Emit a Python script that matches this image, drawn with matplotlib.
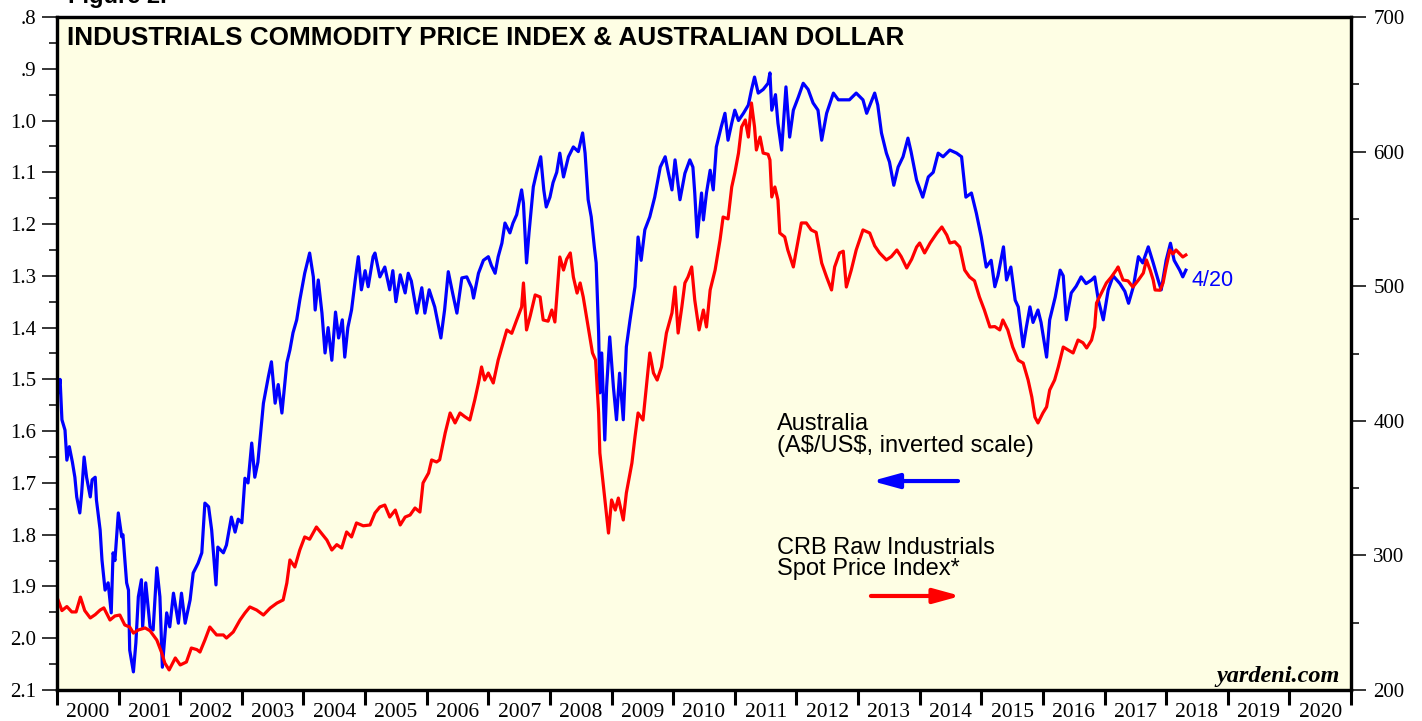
import numpy as np
import matplotlib
matplotlib.use("Agg")
import matplotlib.pyplot as plt

# Australian dollar, A$ per US$ (plotted on inverted left scale)
aud_dates = [2000.00, 2000.02, 2000.05, 2000.08, 2000.13, 2000.16, 2000.20, 2000.25, 2000.29, 2000.32,
             2000.37, 2000.40, 2000.44, 2000.48, 2000.54, 2000.57, 2000.62, 2000.64, 2000.70, 2000.73,
             2000.78, 2000.83, 2000.88, 2000.91, 2000.94, 2000.995, 2001.05, 2001.07, 2001.13, 2001.16,
             2001.18, 2001.24, 2001.28, 2001.32, 2001.37, 2001.39, 2001.44, 2001.51, 2001.56, 2001.62,
             2001.67, 2001.71, 2001.78, 2001.83, 2001.89, 2001.97, 2002.02, 2002.08, 2002.16, 2002.21,
             2002.29, 2002.35, 2002.40, 2002.46, 2002.51, 2002.58, 2002.61, 2002.70, 2002.75, 2002.83,
             2002.89, 2002.94, 2003.00, 2003.05, 2003.10, 2003.16, 2003.21, 2003.26, 2003.35, 2003.43,
             2003.48, 2003.54, 2003.59, 2003.65, 2003.73, 2003.78, 2003.83, 2003.89, 2003.94, 2004.02,
             2004.10, 2004.16, 2004.19, 2004.24, 2004.30, 2004.35, 2004.40, 2004.46, 2004.52, 2004.57,
             2004.63, 2004.67, 2004.72, 2004.78, 2004.84, 2004.89, 2004.94, 2005.00, 2005.05, 2005.13,
             2005.16, 2005.24, 2005.32, 2005.40, 2005.45, 2005.50, 2005.57, 2005.65, 2005.70, 2005.75,
             2005.84, 2005.92, 2005.97, 2006.04, 2006.13, 2006.23, 2006.29, 2006.35, 2006.42, 2006.49,
             2006.57, 2006.65, 2006.73, 2006.76, 2006.84, 2006.92, 2007.00, 2007.05, 2007.11, 2007.16,
             2007.22, 2007.27, 2007.35, 2007.40, 2007.46, 2007.54, 2007.57, 2007.62, 2007.66, 2007.73,
             2007.78, 2007.85, 2007.90, 2007.94, 2008.00, 2008.05, 2008.11, 2008.16, 2008.22, 2008.30,
             2008.38, 2008.46, 2008.53, 2008.57, 2008.62, 2008.67, 2008.72, 2008.75, 2008.79, 2008.81,
             2008.84, 2008.89, 2008.92, 2008.97, 2009.03, 2009.08, 2009.13, 2009.19, 2009.24, 2009.30,
             2009.38, 2009.43, 2009.48, 2009.54, 2009.62, 2009.70, 2009.79, 2009.87, 2009.92, 2009.98,
             2010.03, 2010.11, 2010.19, 2010.27, 2010.32, 2010.35, 2010.39, 2010.46, 2010.49, 2010.54,
             2010.60, 2010.65, 2010.70, 2010.78, 2010.84, 2010.89, 2010.95, 2011.00, 2011.06, 2011.14,
             2011.22, 2011.27, 2011.32, 2011.38, 2011.46, 2011.54, 2011.57, 2011.60, 2011.66, 2011.70,
             2011.76, 2011.83, 2011.89, 2011.95, 2012.03, 2012.11, 2012.19, 2012.27, 2012.35, 2012.41,
             2012.49, 2012.60, 2012.68, 2012.76, 2012.86, 2012.97, 2013.08, 2013.14, 2013.27, 2013.32,
             2013.38, 2013.46, 2013.51, 2013.58, 2013.65, 2013.73, 2013.81, 2013.86, 2013.95, 2014.05,
             2014.14, 2014.22, 2014.30, 2014.38, 2014.49, 2014.60, 2014.68, 2014.75, 2014.84, 2014.92,
             2015.00, 2015.08, 2015.16, 2015.22, 2015.27, 2015.36, 2015.41, 2015.48, 2015.55, 2015.60,
             2015.68, 2015.73, 2015.79, 2015.84, 2015.92, 2015.97, 2016.06, 2016.11, 2016.20, 2016.28,
             2016.33, 2016.38, 2016.46, 2016.54, 2016.62, 2016.70, 2016.79, 2016.84, 2016.90, 2016.98,
             2017.06, 2017.14, 2017.25, 2017.33, 2017.39, 2017.47, 2017.55, 2017.62, 2017.71, 2017.79,
             2017.87, 2017.92, 2018.00, 2018.07, 2018.13, 2018.22, 2018.27, 2018.32]
aud_usd = [1.500, 1.526, 1.500, 1.578, 1.598, 1.656, 1.630, 1.660, 1.689, 1.727,
           1.758, 1.720, 1.650, 1.689, 1.727, 1.694, 1.689, 1.733, 1.791, 1.849,
           1.907, 1.893, 1.951, 1.835, 1.850, 1.758, 1.804, 1.800, 1.893, 1.907,
           2.023, 2.065, 2.009, 1.920, 1.887, 1.978, 1.893, 1.978, 1.984, 1.864,
           1.920, 2.056, 1.951, 1.978, 1.913, 1.971, 1.913, 1.971, 1.926, 1.874,
           1.855, 1.835, 1.739, 1.746, 1.791, 1.897, 1.824, 1.835, 1.820, 1.766,
           1.795, 1.770, 1.777, 1.691, 1.700, 1.623, 1.689, 1.660, 1.546, 1.495,
           1.466, 1.546, 1.510, 1.565, 1.468, 1.443, 1.410, 1.385, 1.347, 1.295,
           1.256, 1.302, 1.366, 1.308, 1.372, 1.449, 1.400, 1.463, 1.370, 1.420,
           1.385, 1.457, 1.400, 1.366, 1.308, 1.263, 1.327, 1.290, 1.321, 1.263,
           1.256, 1.302, 1.283, 1.327, 1.290, 1.350, 1.298, 1.333, 1.295, 1.310,
           1.372, 1.323, 1.372, 1.327, 1.360, 1.420, 1.366, 1.292, 1.333, 1.372,
           1.304, 1.302, 1.323, 1.343, 1.295, 1.270, 1.263, 1.280, 1.295, 1.263,
           1.237, 1.198, 1.217, 1.198, 1.182, 1.134, 1.160, 1.275, 1.217, 1.128,
           1.102, 1.070, 1.134, 1.167, 1.148, 1.120, 1.100, 1.063, 1.109, 1.070,
           1.051, 1.060, 1.024, 1.063, 1.153, 1.186, 1.244, 1.275, 1.410, 1.526,
           1.449, 1.617, 1.515, 1.418, 1.515, 1.578, 1.488, 1.578, 1.437, 1.385,
           1.321, 1.225, 1.270, 1.211, 1.186, 1.148, 1.090, 1.070, 1.100, 1.134,
           1.076, 1.153, 1.102, 1.076, 1.090, 1.140, 1.225, 1.140, 1.192, 1.140,
           1.096, 1.134, 1.051, 1.012, 0.986, 1.038, 1.005, 0.980, 1.000, 0.986,
           0.970, 0.941, 0.916, 0.947, 0.940, 0.928, 0.908, 0.980, 0.950, 1.005,
           1.057, 0.935, 1.032, 0.980, 0.955, 0.928, 0.940, 0.966, 0.980, 1.038,
           0.986, 0.947, 0.960, 0.960, 0.960, 0.947, 0.960, 0.986, 0.947, 0.970,
           1.024, 1.063, 1.080, 1.125, 1.090, 1.070, 1.034, 1.060, 1.115, 1.148,
           1.109, 1.100, 1.063, 1.070, 1.057, 1.063, 1.070, 1.148, 1.140, 1.179,
           1.225, 1.283, 1.270, 1.321, 1.300, 1.244, 1.308, 1.283, 1.347, 1.360,
           1.437, 1.400, 1.360, 1.390, 1.366, 1.390, 1.457, 1.385, 1.341, 1.289,
           1.300, 1.385, 1.333, 1.320, 1.302, 1.315, 1.308, 1.302, 1.347, 1.385,
           1.327, 1.300, 1.315, 1.330, 1.353, 1.320, 1.263, 1.275, 1.244, 1.275,
           1.308, 1.327, 1.270, 1.237, 1.270, 1.289, 1.302, 1.289]

# CRB raw industrials spot price index (right scale)
crb_dates = [2000.00, 2000.08, 2000.16, 2000.24, 2000.31, 2000.38, 2000.45, 2000.54, 2000.62, 2000.70,
             2000.76, 2000.86, 2000.94, 2001.02, 2001.10, 2001.18, 2001.24, 2001.32, 2001.43, 2001.51,
             2001.62, 2001.70, 2001.75, 2001.82, 2001.92, 2002.00, 2002.10, 2002.18, 2002.27, 2002.32,
             2002.40, 2002.48, 2002.59, 2002.70, 2002.75, 2002.86, 2002.97, 2003.05, 2003.13, 2003.24,
             2003.35, 2003.46, 2003.57, 2003.67, 2003.73, 2003.78, 2003.86, 2003.94, 2004.02, 2004.10,
             2004.21, 2004.30, 2004.38, 2004.46, 2004.54, 2004.62, 2004.70, 2004.78, 2004.86, 2004.97,
             2005.08, 2005.16, 2005.24, 2005.32, 2005.40, 2005.49, 2005.57, 2005.65, 2005.73, 2005.81,
             2005.89, 2005.94, 2006.03, 2006.08, 2006.16, 2006.21, 2006.30, 2006.38, 2006.46, 2006.54,
             2006.62, 2006.70, 2006.78, 2006.84, 2006.89, 2006.94, 2007.00, 2007.08, 2007.16, 2007.22,
             2007.30, 2007.38, 2007.46, 2007.54, 2007.57, 2007.62, 2007.68, 2007.76, 2007.84, 2007.89,
             2007.97, 2008.03, 2008.08, 2008.16, 2008.22, 2008.27, 2008.33, 2008.38, 2008.44, 2008.49,
             2008.54, 2008.62, 2008.69, 2008.74, 2008.79, 2008.81, 2008.87, 2008.91, 2008.95, 2009.00,
             2009.06, 2009.11, 2009.19, 2009.24, 2009.33, 2009.38, 2009.43, 2009.51, 2009.57, 2009.62,
             2009.68, 2009.74, 2009.81, 2009.89, 2009.98, 2010.03, 2010.08, 2010.14, 2010.19, 2010.24,
             2010.30, 2010.35, 2010.42, 2010.49, 2010.54, 2010.60, 2010.68, 2010.76, 2010.81, 2010.89,
             2010.95, 2011.00, 2011.06, 2011.11, 2011.17, 2011.22, 2011.27, 2011.32, 2011.35, 2011.41,
             2011.46, 2011.54, 2011.57, 2011.60, 2011.65, 2011.70, 2011.73, 2011.81, 2011.86, 2011.95,
             2011.99, 2012.08, 2012.16, 2012.24, 2012.32, 2012.41, 2012.49, 2012.57, 2012.62, 2012.70,
             2012.76, 2012.81, 2012.89, 2012.97, 2013.08, 2013.19, 2013.27, 2013.35, 2013.46, 2013.54,
             2013.63, 2013.70, 2013.79, 2013.87, 2013.95, 2014.00, 2014.08, 2014.17, 2014.28, 2014.36,
             2014.44, 2014.49, 2014.57, 2014.65, 2014.73, 2014.81, 2014.89, 2014.97, 2015.05, 2015.14,
             2015.22, 2015.30, 2015.35, 2015.43, 2015.51, 2015.60, 2015.68, 2015.76, 2015.82, 2015.87,
             2015.92, 2016.00, 2016.06, 2016.11, 2016.19, 2016.25, 2016.33, 2016.41, 2016.49, 2016.57,
             2016.65, 2016.71, 2016.79, 2016.84, 2016.87, 2016.95, 2017.03, 2017.11, 2017.19, 2017.22,
             2017.30, 2017.38, 2017.46, 2017.55, 2017.63, 2017.68, 2017.74, 2017.79, 2017.82, 2017.90,
             2017.95, 2018.00, 2018.06, 2018.11, 2018.16, 2018.22, 2018.27, 2018.32]
crb_index = [269.0, 259.0, 262.0, 258.0, 258.0, 269.0, 259.0, 253.5, 256.0, 259.4,
             261.0, 252.0, 255.0, 255.7, 248.3, 246.8, 242.3, 244.6, 246.1, 244.0,
             237.1, 227.5, 220.0, 214.9, 223.8, 218.6, 220.8, 231.2, 230.0, 228.2,
             237.1, 246.8, 240.9, 240.9, 238.6, 243.1, 252.0, 257.2, 261.7, 259.4,
             255.7, 260.9, 264.6, 266.9, 279.5, 296.6, 291.4, 304.0, 313.7, 312.0,
             321.1, 316.0, 311.4, 304.0, 308.0, 305.5, 317.4, 313.7, 324.1, 322.0,
             322.6, 331.5, 336.0, 337.4, 328.5, 333.7, 322.6, 328.5, 330.0, 335.2,
             332.2, 353.8, 361.2, 370.9, 369.4, 371.0, 391.0, 405.8, 398.4, 405.8,
             403.0, 400.6, 415.5, 428.1, 440.0, 430.3, 435.5, 428.1, 445.2, 454.8,
             467.5, 465.0, 474.9, 484.5, 502.4, 467.5, 478.0, 493.5, 492.0, 474.9,
             474.0, 482.3, 473.4, 521.7, 512.0, 520.0, 524.7, 506.8, 494.9, 502.4,
             492.0, 469.7, 450.4, 445.2, 405.8, 376.1, 350.8, 333.7, 316.6, 341.2,
             333.7, 342.6, 326.3, 346.4, 368.6, 388.0, 405.8, 400.6, 428.1, 450.4,
             435.5, 430.3, 440.0, 465.2, 480.1, 499.4, 465.2, 484.5, 502.4, 506.8,
             514.3, 489.7, 467.5, 482.3, 469.7, 497.2, 512.0, 534.3, 551.4, 550.0,
             573.7, 584.1, 598.9, 618.3, 623.5, 610.8, 636.1, 618.3, 601.2, 610.8,
             598.9, 598.0, 593.8, 566.3, 573.7, 564.0, 539.5, 536.6, 526.9, 514.3,
             524.7, 547.0, 547.0, 541.8, 540.0, 517.2, 506.8, 497.2, 514.3, 524.7,
             526.0, 499.4, 512.0, 526.9, 541.8, 539.5, 530.0, 524.7, 519.5, 522.0,
             526.9, 522.0, 513.5, 520.0, 529.1, 532.1, 524.7, 532.1, 539.5, 544.0,
             538.0, 532.1, 533.0, 529.1, 512.0, 506.8, 504.0, 492.0, 482.3, 469.7,
             470.0, 467.5, 474.9, 467.5, 454.8, 445.0, 442.9, 430.3, 417.7, 402.8,
             398.4, 405.8, 410.3, 422.9, 430.3, 440.0, 454.8, 452.6, 450.4, 460.0,
             458.0, 454.1, 460.0, 469.7, 487.5, 494.9, 502.4, 506.8, 512.0, 514.3,
             504.6, 504.0, 499.4, 504.6, 509.8, 519.5, 512.0, 504.6, 497.2, 497.0,
             502.4, 514.3, 526.9, 524.0, 526.9, 524.0, 521.7, 523.2]

years = list(range(2000, 2022))
year_labels = [str(y) for y in range(2000, 2021)]
left_ticks = [0.8, 0.9, 1.0, 1.1, 1.2, 1.3, 1.4, 1.5, 1.6, 1.7, 1.8, 1.9, 2.0, 2.1]
left_labels = ['.8', '.9', '1.0', '1.1', '1.2', '1.3', '1.4', '1.5', '1.6', '1.7', '1.8', '1.9', '2.0', '2.1']
right_ticks = [200, 300, 400, 500, 600, 700]

serif = 'Liberation Serif'
sans = 'Liberation Sans'
bg = '#fefee4'

fig = plt.figure(figsize=(14.22, 7.21), dpi=100)
ax = fig.add_axes([57/1422, 31/721, 1294/1422, 673/721])
ax2 = ax.twinx()

ax.set_facecolor(bg)
ax2.patch.set_visible(False)

ax.plot(aud_dates, aud_usd, color='#0000ff', lw=2.3, solid_joinstyle='round')
ax2.plot(crb_dates, crb_index, color='#ff0000', lw=2.3, solid_joinstyle='round')

ax.set_xlim(2000, 2021)
ax.set_ylim(2.1, 0.8)      # inverted scale
ax2.set_ylim(200, 700)

# left axis
ax.set_yticks(left_ticks)
ax.set_yticklabels(left_labels, fontfamily=serif, fontsize=15)
ax.set_yticks(np.arange(0.85, 2.1, 0.1), minor=True)
ax.tick_params(axis='y', which='major', length=11, width=1.1, pad=4, direction='out')
ax.tick_params(axis='y', which='minor', length=5.5, width=1.1, direction='out')

# right axis
ax2.set_yticks(right_ticks)
ax2.set_yticklabels([str(v) for v in right_ticks], fontfamily=serif, fontsize=15)
ax2.set_yticks(np.arange(250, 700, 100), minor=True)
ax2.tick_params(axis='y', which='major', length=11, width=1.1, pad=5, direction='out')
ax2.tick_params(axis='y', which='minor', length=5.5, width=1.1, direction='out')

# years: ticks at boundaries, labels centred in between
ax.set_xticks(years)
ax.set_xticklabels([])
ax.set_xticks([y + 0.5 for y in range(2000, 2021)], minor=True)
ax.set_xticklabels(year_labels, minor=True, fontfamily=serif, fontsize=15.5)
ax.tick_params(axis='x', which='major', length=11, width=2.2, direction='out')
ax.tick_params(axis='x', which='minor', length=0, pad=9.5)

for a in (ax, ax2):
    for s in a.spines.values():
        s.set_linewidth(2.3)

ax.text(0.0077, 0.958, 'INDUSTRIALS COMMODITY PRICE INDEX & AUSTRALIAN DOLLAR',
        transform=ax.transAxes, fontfamily=sans, fontweight='bold', fontsize=18.8, va='baseline')
fig.text(68/1422, 1 - 3/721, 'Figure 2.', fontfamily=sans, fontweight='bold', fontsize=17, va='baseline')

ax.text(0.5564, 0.411, 'Australia\n(A\\$/US\\$, inverted scale)', transform=ax.transAxes,
        fontfamily=sans, fontsize=17, va='top', linespacing=0.98)
ax.text(0.5564, 0.228, 'CRB Raw Industrials\nSpot Price Index*', transform=ax.transAxes,
        fontfamily=sans, fontsize=17, va='top', linespacing=0.98)

ax.annotate('', xy=(0.6298, 0.3105), xytext=(0.6963, 0.3105), xycoords='axes fraction',
            arrowprops=dict(arrowstyle='-|>,head_length=0.8,head_width=0.22', color='#0000ff',
                            lw=3, mutation_scale=20, shrinkA=0, shrinkB=0))
ax.annotate('', xy=(0.6983, 0.1397), xytext=(0.6290, 0.1397), xycoords='axes fraction',
            arrowprops=dict(arrowstyle='-|>,head_length=0.8,head_width=0.22', color='#ff0000',
                            lw=3, mutation_scale=20, shrinkA=0, shrinkB=0))

ax.text(0.877, 0.600, '4/20', transform=ax.transAxes, color='#0000ff',
        fontfamily=sans, fontsize=15.5, va='baseline')
ax.text(0.9915, 0.0119, 'yardeni.com', transform=ax.transAxes, fontfamily=serif,
        fontweight='bold', fontstyle='italic', fontsize=17.5, ha='right', va='baseline')

fig.savefig('out.png', dpi=100)
